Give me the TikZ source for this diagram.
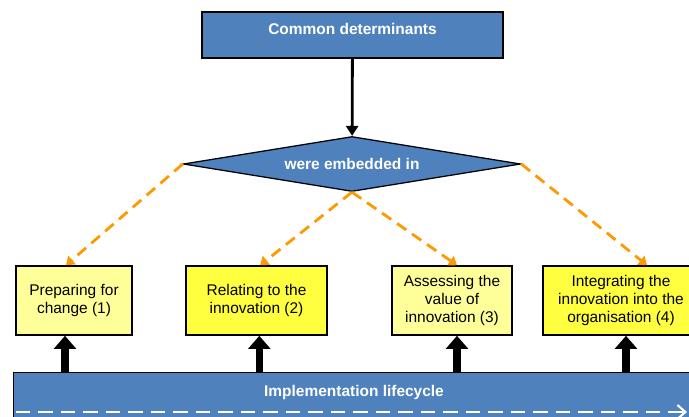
\documentclass[tikz,border=0pt]{standalone}
\usepackage{fontspec}
\setmainfont{Liberation Sans}
\usetikzlibrary{arrows.meta,shapes.geometric,positioning}
\definecolor{azulbloque}{RGB}{79,129,189}
\definecolor{amarillopalido}{RGB}{255,255,153}
\definecolor{amarillovivo}{RGB}{255,255,64}
\definecolor{naranjaflecha}{RGB}{255,153,0}

\begin{document}
\begin{tikzpicture}[x=0.025cm, y=-0.025cm,
    bloque/.style={rectangle, draw=black, line width=0.9pt, fill=azulbloque,
                   text=white, font=\fontsize{11}{13}\selectfont\bfseries},
    decision/.style={diamond, draw=black, line width=0.9pt, fill=azulbloque,
                     text=white, font=\fontsize{11}{13}\selectfont\bfseries,
                     minimum width=8.43cm, minimum height=1.375cm,
                     aspect=6, inner sep=0pt},
    fase/.style={rectangle, draw=black, line width=1.1pt, fill=amarillopalido,
                 minimum height=1.725cm, align=center,
                 font=\fontsize{11}{12.5}\selectfont},
    flecha/.style={-{Triangle[width=0.3cm,length=0.25cm]}, line width=2pt},
    enlace/.style={-{Triangle[width=0.28cm,length=0.2cm]}, line width=2pt,
                   color=naranjaflecha, dash pattern=on 8pt off 5pt},
    empuje/.style={-{Triangle[width=0.55cm,length=0.33cm]}, line width=5pt},
    ciclo/.style={-{Straight Barb[length=0.2cm,width=0.35cm]}, line width=1.5pt,
                  color=white, dash pattern=on 10pt off 6pt}
  ]
    \clip (0,0) rectangle (689,416);

    % cabecera y rombo
    \node[bloque, minimum width=7.525cm, minimum height=1.15cm, text depth=0.3cm]
      (comunes) at (352.5,35) {Common determinants};
    \node[decision] (incrustado) at (352,164) {were embedded in};

    % las cuatro fases
    \node[fase, minimum width=2.9cm] (fase1) at (74,300.5) {Preparing for\\change (1)};
    \node[fase, minimum width=3.525cm, fill=amarillovivo] (fase2) at (256.5,300.5)
      {Relating to the\\innovation (2)};
    \node[fase, minimum width=3cm] (fase3) at (452,300.5)
      {Assessing the\\value of\\innovation (3)};
    \node[fase, minimum width=3.9cm, fill=amarillovivo] (fase4) at (621,300.5)
      {Integrating the\\innovation into the\\organisation (4)};

    % barra del ciclo de vida
    \node[bloque, anchor=north west, minimum width=17.175cm, minimum height=1.45cm]
      (vida) at (13,372) {};
    \node[bloque, draw=none, fill=none, inner sep=0pt] (vidatexto) at (354,392)
      {Implementation lifecycle};
    \coordinate (vidaini) at (16,412);
    \coordinate (vidafin) at (687,412);
    \draw[ciclo] (vidaini) -- (vidafin);

    \draw[flecha] (comunes) -- (incrustado);
    \draw[enlace] (incrustado.west) -- ([xshift=-0.2cm]fase1.north);
    \draw[enlace] (incrustado.south) -- ([xshift=0.09cm]fase2.north);
    \draw[enlace] (incrustado.south) -- ([xshift=0.125cm]fase3.north);
    \draw[enlace] (incrustado.east) -- ([xshift=0.65cm]fase4.north);

    \draw[empuje] ([xshift=-0.225cm]fase1.south |- vida.north) -- ([xshift=-0.225cm]fase1.south);
    \draw[empuje] ([xshift=0.07cm]fase2.south |- vida.north) -- ([xshift=0.07cm]fase2.south);
    \draw[empuje] ([xshift=0.125cm]fase3.south |- vida.north) -- ([xshift=0.125cm]fase3.south);
    \draw[empuje] ([xshift=0.125cm]fase4.south |- vida.north) -- ([xshift=0.125cm]fase4.south);
  \end{tikzpicture}
\end{document}
